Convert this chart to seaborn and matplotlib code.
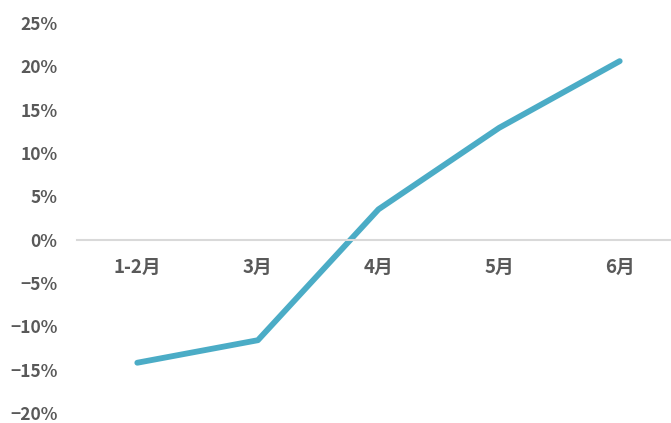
import matplotlib
matplotlib.use("Agg")
import matplotlib.pyplot as plt
import seaborn as sns
import pandas as pd
from matplotlib.ticker import FuncFormatter

months = ["1-2月", "3月", "4月", "5月", "6月"]
growth = [-14.2, -11.6, 3.5, 12.9, 20.6]
yticks = [-20, -15, -10, -5, 0, 5, 10, 15, 20, 25]

sns.set_style("white")
plt.rcParams['font.family'] = ['Noto Sans CJK SC', 'DejaVu Sans']

df = pd.DataFrame({"month": months, "growth": growth})
fig = plt.figure(figsize=(6.71, 4.23), dpi=100)
ax = fig.add_axes([77/671, 10/423, 603/671, 390/423])
sns.lineplot(data=df, x="month", y="growth", ax=ax, color="#4BACC6",
             linewidth=4.2, sort=False, solid_capstyle="round", solid_joinstyle="round")

ax.set_xlim(-0.5, 4.5)
ax.set_ylim(-20, 25)
ax.set_yticks(yticks)
ax.yaxis.set_major_formatter(FuncFormatter(lambda v, p: f"{int(v)}%".replace("-", "\u2212")))
for s in ["top", "right", "left"]:
    ax.spines[s].set_visible(False)
ax.spines["bottom"].set_position(("data", 0))
ax.spines["bottom"].set_color("#D9D9D9")
ax.spines["bottom"].set_linewidth(1.5)
ax.tick_params(axis="x", length=0, pad=13)
ax.tick_params(axis="y", length=0, pad=14)
for lab in ax.get_yticklabels():
    lab.set_fontsize(12.5)
    lab.set_fontweight("bold")
    lab.set_color("#595959")
for lab in ax.get_xticklabels():
    lab.set_fontsize(13.5)
    lab.set_fontweight("bold")
    lab.set_color("#595959")
ax.set_xlabel("")
ax.set_ylabel("")
ax.grid(False)
fig.savefig("out.png", dpi=100)
